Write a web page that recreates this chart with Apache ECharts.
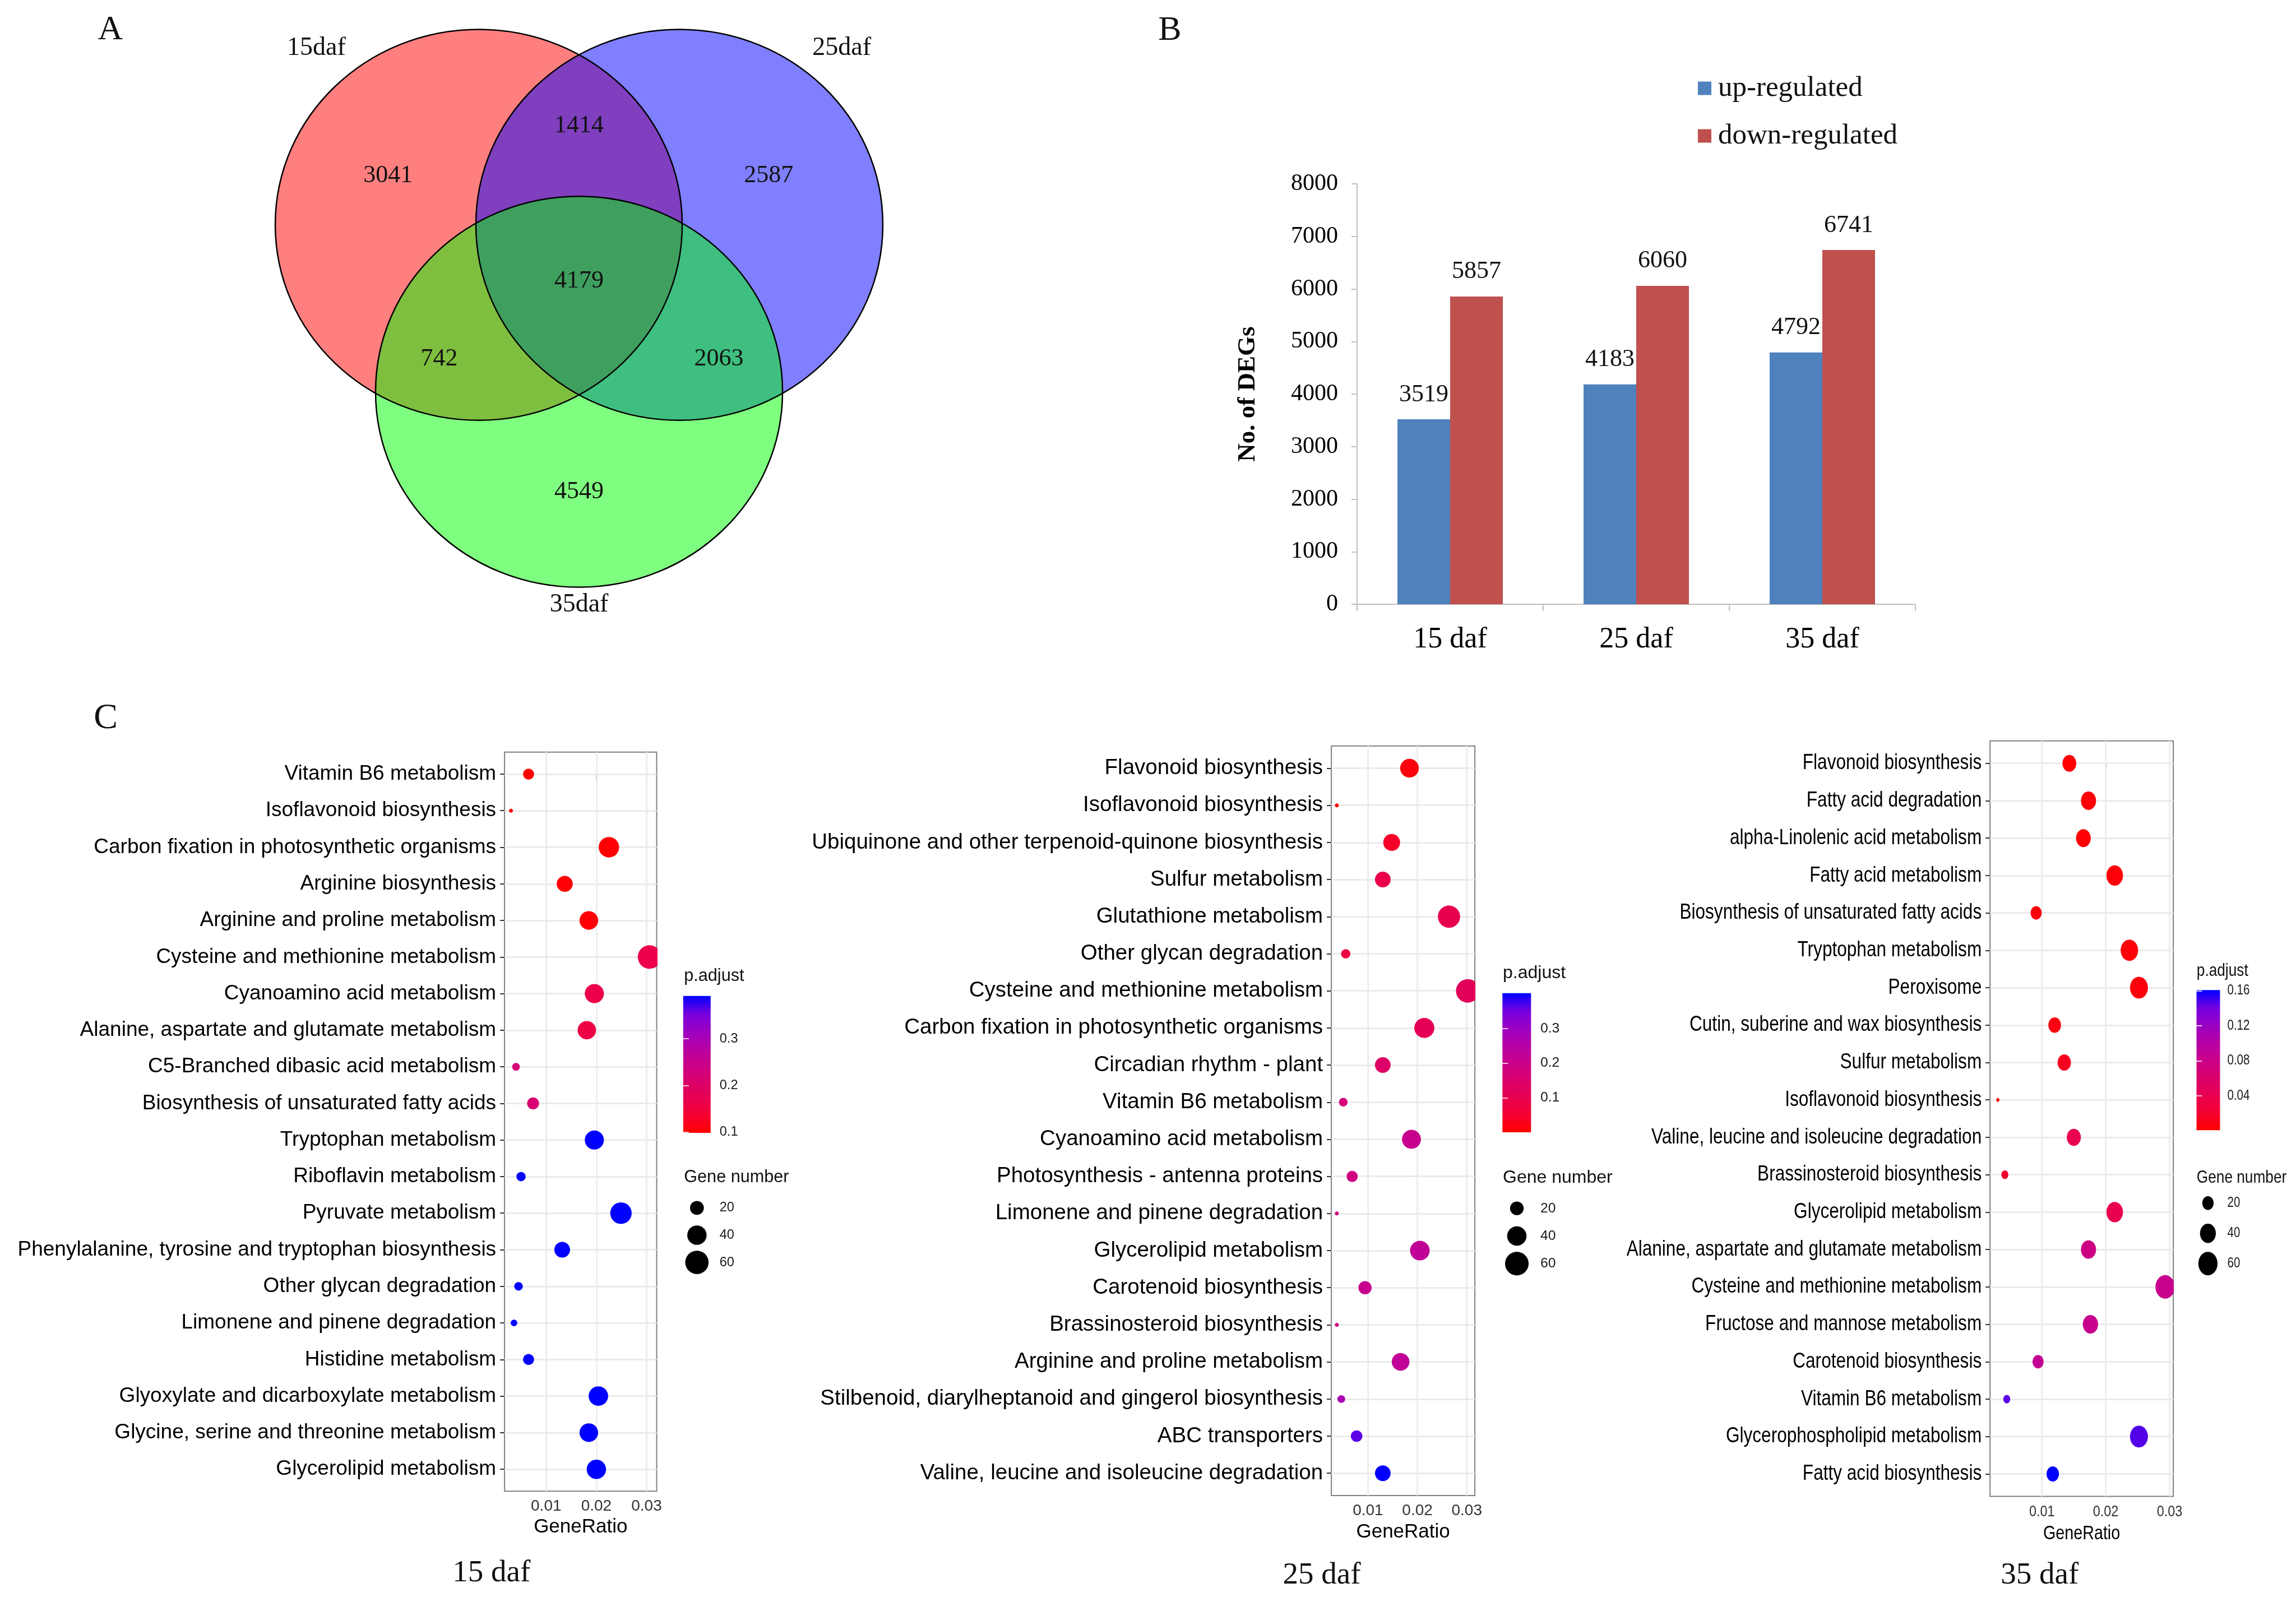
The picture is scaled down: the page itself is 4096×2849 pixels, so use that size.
<!DOCTYPE html>
<html><head><meta charset="utf-8">
<script src="https://cdn.jsdelivr.net/npm/echarts@6/dist/echarts.min.js"></script>
<style>html,body{margin:0;padding:0;background:#fff}#c{width:4096px;height:2849px}</style>
</head><body><div id="c"></div>
<script>
// ================= DATA =================
// Panel A: Venn diagram
const vennSetNames = ['15daf', '25daf', '35daf'];
const vennRegionCounts = [3041, 1414, 2587, 4179, 742, 2063, 4549]; // 15 only, 15&25, 25 only, all, 15&35, 25&35, 35 only

// Panel B: bar chart
const barCategories = ['15 daf', '25 daf', '35 daf'];
const upRegulated = [3519, 4183, 4792];
const downRegulated = [5857, 6060, 6741];
const seriesNames = ['up-regulated', 'down-regulated'];

// Panel C: KEGG dot plots
const terms15 = ['Vitamin B6 metabolism','Isoflavonoid biosynthesis','Carbon fixation in photosynthetic organisms','Arginine biosynthesis','Arginine and proline metabolism','Cysteine and methionine metabolism','Cyanoamino acid metabolism','Alanine, aspartate and glutamate metabolism','C5-Branched dibasic acid metabolism','Biosynthesis of unsaturated fatty acids','Tryptophan metabolism','Riboflavin metabolism','Pyruvate metabolism','Phenylalanine, tyrosine and tryptophan biosynthesis','Other glycan degradation','Limonene and pinene degradation','Histidine metabolism','Glyoxylate and dicarboxylate metabolism','Glycine, serine and threonine metabolism','Glycerolipid metabolism'];
const ratio15 = [0.0065, 0.0030, 0.0225, 0.0137, 0.0185, 0.0306, 0.0196, 0.0181, 0.0040, 0.0074, 0.0196, 0.0050, 0.0249, 0.0132, 0.0045, 0.0036, 0.0065, 0.0204, 0.0185, 0.0200];
const count15 = [13, 6, 45, 27, 37, 61, 39, 36, 8, 15, 39, 10, 50, 26, 9, 7, 13, 41, 37, 40];
const padj15 = [0.099, 0.098, 0.100, 0.100, 0.102, 0.163, 0.163, 0.157, 0.221, 0.216, 0.392, 0.392, 0.392, 0.392, 0.392, 0.392, 0.392, 0.392, 0.392, 0.392];

const terms25 = ['Flavonoid biosynthesis','Isoflavonoid biosynthesis','Ubiquinone and other terpenoid-quinone biosynthesis','Sulfur metabolism','Glutathione metabolism','Other glycan degradation','Cysteine and methionine metabolism','Carbon fixation in photosynthetic organisms','Circadian rhythm - plant','Vitamin B6 metabolism','Cyanoamino acid metabolism','Photosynthesis - antenna proteins','Limonene and pinene degradation','Glycerolipid metabolism','Carotenoid biosynthesis','Brassinosteroid biosynthesis','Arginine and proline metabolism','Stilbenoid, diarylheptanoid and gingerol biosynthesis','ABC transporters','Valine, leucine and isoleucine degradation'];
const ratio25 = [0.0184, 0.0037, 0.0148, 0.0130, 0.0264, 0.0055, 0.0302, 0.0214, 0.0130, 0.0050, 0.0188, 0.0068, 0.0037, 0.0205, 0.0094, 0.0037, 0.0166, 0.0046, 0.0077, 0.0130];
const count25 = [37, 7, 30, 26, 53, 11, 60, 43, 26, 10, 38, 14, 7, 41, 19, 7, 33, 9, 15, 26];
const padj25 = [0.012, 0.008, 0.041, 0.089, 0.101, 0.081, 0.121, 0.109, 0.141, 0.173, 0.209, 0.185, 0.181, 0.225, 0.209, 0.181, 0.225, 0.273, 0.362, 0.401];

const terms35 = ['Flavonoid biosynthesis','Fatty acid degradation','alpha-Linolenic acid metabolism','Fatty acid metabolism','Biosynthesis of unsaturated fatty acids','Tryptophan metabolism','Peroxisome','Cutin, suberine and wax biosynthesis','Sulfur metabolism','Isoflavonoid biosynthesis','Valine, leucine and isoleucine degradation','Brassinosteroid biosynthesis','Glycerolipid metabolism','Alanine, aspartate and glutamate metabolism','Cysteine and methionine metabolism','Fructose and mannose metabolism','Carotenoid biosynthesis','Vitamin B6 metabolism','Glycerophospholipid metabolism','Fatty acid biosynthesis'];
const ratio35 = [0.0143, 0.0173, 0.0165, 0.0214, 0.0091, 0.0237, 0.0252, 0.0120, 0.0135, 0.0031, 0.0150, 0.0042, 0.0214, 0.0173, 0.0293, 0.0176, 0.0094, 0.0045, 0.0252, 0.0117];
const count35 = [30, 36, 34, 44, 19, 49, 52, 25, 28, 6, 31, 9, 44, 36, 61, 37, 19, 9, 52, 24];
const padj35 = [0.0016, 0.004, 0.0032, 0.004, 0.0056, 0.004, 0.0056, 0.0072, 0.0136, 0.004, 0.0392, 0.020, 0.0392, 0.0776, 0.084, 0.084, 0.0872, 0.1448, 0.1464, 0.1608];

const geneRatioTicks = [0.01, 0.02, 0.03];
const geneRatioMinor = [0.005, 0.015, 0.025];
const sizeBreaks = [20, 40, 60];
const pBreaks15 = [0.1, 0.2, 0.3];
const pBreaks25 = [0.1, 0.2, 0.3];
const pBreaks35 = [0.04, 0.08, 0.12, 0.16];

// ================= STYLE / LAYOUT =================
const SERIF = '"Liberation Serif", "Times New Roman", serif';
const SANS = '"Liberation Sans", Arial, sans-serif';
const ramp = ['#FF0000','#F40031','#E80050','#DA006C','#CA0089','#B500A5','#9A00C3','#7300E0','#0000FF'];

const vennCircleCenters = [[-0.493, -0.427], [0.493, -0.427], [0, 0.427]];
const vennFill = ['rgba(255,0,0,0.5)', 'rgba(0,0,255,0.5)', 'rgba(0,255,0,0.5)'];
const vennRegionPos = [[-0.939, -0.678], [0, -0.933], [0.932, -0.678], [0, -0.139], [-0.687, 0.258], [0.687, 0.258], [0, 0.94]];
const vennSetLabelPos = [[-1.291, -1.33], [1.291, -1.33], [0, 1.517]];

const panels = [
  { terms: terms15, ratio: ratio15, count: count15, padj: padj15, pBreaks: pBreaks15,
    xRange: [0.00172, 0.03201], pRange: [0.098, 0.392],
    grid: { left: 900.1, top: 1341.8, width: 271.4, height: 1318.5 },
    sx: 1, labelSize: 37, tickSize: 28, nameGap: 47, aspect: 1,
    cb: { left: 1218.8, top: 1776.7, width: 49, height: 244.4, margin: 16 },
    sz: { cx: 1243.3, ys: [2154.9, 2202.7, 2252.1], labelLeft: 1283.8 },
    legTitleX: 1220.3, pTitleY: 1742, gTitleY: 2101, legTitleSize: 30.6, legLabelSize: 23.5,
    title: '15 daf', titlePos: [876.8, 2807] },
  { terms: terms25, ratio: ratio25, count: count25, padj: padj25, pBreaks: pBreaks25,
    xRange: [0.00259, 0.03163], pRange: [0.0004, 0.402],
    grid: { left: 2375.1, top: 1330.8, width: 256, height: 1337.1 },
    sx: 1, labelSize: 38.5, tickSize: 28, nameGap: 48, aspect: 1,
    cb: { left: 2680.3, top: 1771.7, width: 51, height: 248.4, margin: 16.7 },
    sz: { cx: 2706, ys: [2155.7, 2205.0, 2254.2], labelLeft: 2748 },
    legTitleX: 2681, pTitleY: 1736, gTitleY: 2101, legTitleSize: 32, legLabelSize: 24.7,
    title: '25 daf', titlePos: [2358, 2811] },
  { terms: terms35, ratio: ratio35, count: count35, padj: padj35, pBreaks: pBreaks35,
    xRange: [0.00188, 0.03057], pRange: [0.0008, 0.1608],
    grid: { left: 3550.2, top: 1321.7, width: 326.8, height: 1347.8 },
    sx: 0.82, labelSize: 38.5, tickSize: 28.5, nameGap: 49, aspect: 0.82,
    cb: { left: 3918.5, top: 1766.3, width: 42, height: 250, margin: 13 },
    sz: { cx: 3938.9, ys: [2146.3, 2200.6, 2254.2], labelLeft: 3973.6 },
    legTitleX: 3918.8, pTitleY: 1731.8, gTitleY: 2101, legTitleSize: 32, legLabelSize: 25,
    title: '35 daf', titlePos: [3638.8, 2811] }
];

function dotDiam(n, nmin, nmax) { return 7 * (1 + 5 * Math.sqrt(Math.max(0, n - nmin) / (nmax - nmin))); }
function fmtP(v) { return String(+v.toFixed(2)); }

// ================= BUILD OPTION =================
const grids = [], xAxes = [], yAxes = [], series = [], visualMaps = [], graphics = [];

// Grid 0: Venn
grids.push({ left: 307, top: 9.5, width: 1452, height: 1081, show: false, outerBoundsMode: 'none' });
xAxes.push({ type: 'value', gridIndex: 0, min: -2, max: 2, show: false });
yAxes.push({ type: 'value', gridIndex: 0, min: -1.55, max: 1.55, inverse: true, show: false });

// Grid 1: bar chart
grids.push({ left: 2421, top: 328, width: 996, height: 750, show: false, outerBoundsMode: 'none' });
xAxes.push({ type: 'category', gridIndex: 1, data: barCategories,
  axisLine: { show: true, lineStyle: { color: '#BFBFBF', width: 2 } },
  axisTick: { show: true, length: 12, lineStyle: { color: '#BFBFBF', width: 2 } },
  axisLabel: { fontFamily: SERIF, fontSize: 52, color: '#000', margin: 37 },
  splitLine: { show: false } });
yAxes.push({ type: 'value', gridIndex: 1, min: 0, max: 8000, interval: 1000,
  name: 'No. of DEGs', nameLocation: 'middle', nameGap: 172, nameRotate: 90,
  nameTextStyle: { fontFamily: SERIF, fontSize: 45, fontWeight: 'bold', color: '#000' },
  axisLine: { show: true, lineStyle: { color: '#BFBFBF', width: 2 } },
  axisTick: { show: true, length: 10, lineStyle: { color: '#BFBFBF', width: 2 } },
  axisLabel: { fontFamily: SERIF, fontSize: 42, color: '#000', margin: 34, formatter: v => String(v) },
  splitLine: { show: false } });

// Grids 2-4: dot plots
panels.forEach((p, k) => {
  grids.push(Object.assign({ show: true, borderColor: '#808080', borderWidth: 2, backgroundColor: '#fff', outerBoundsMode: 'none' }, p.grid));
  const gi = 2 + k;
  const native = p.sx === 1;
  xAxes.push({ type: 'value', gridIndex: gi, min: p.xRange[0], max: p.xRange[1],
    name: native ? 'GeneRatio' : '', nameLocation: 'middle', nameGap: p.nameGap,
    nameTextStyle: { fontFamily: SANS, fontSize: 35, color: '#000' },
    axisLine: { show: false },
    axisTick: { show: true, customValues: geneRatioTicks, length: 8, lineStyle: { color: '#333', width: 2 } },
    axisLabel: { show: native, customValues: geneRatioTicks, formatter: v => v.toFixed(2), fontFamily: SANS, fontSize: p.tickSize, color: '#333', margin: 13 },
    splitLine: { show: false } });
  const idx = p.terms.map((_, i) => i);
  yAxes.push({ type: 'value', gridIndex: gi, min: -0.6, max: p.terms.length - 0.4, inverse: true,
    axisLine: { show: false },
    axisTick: { show: true, customValues: idx, length: 8, lineStyle: { color: '#333', width: 2 } },
    axisLabel: { show: native, customValues: idx, formatter: v => p.terms[Math.round(v)], fontFamily: SANS, fontSize: p.labelSize, color: '#000', margin: 15 },
    splitLine: { show: false } });
});

// Grids 5-7: colour bars
panels.forEach((p, k) => {
  grids.push({ left: p.cb.left, top: p.cb.top, width: p.cb.width, height: p.cb.height, show: false, outerBoundsMode: 'none' });
  const gi = 5 + k;
  xAxes.push({ type: 'value', gridIndex: gi, min: 0, max: 1, show: false });
  yAxes.push({ type: 'value', gridIndex: gi, min: p.pRange[0], max: p.pRange[1], position: 'right', z: 10,
    axisLine: { show: false },
    axisTick: { show: true, inside: true, customValues: p.pBreaks, length: 10, lineStyle: { color: '#fff', width: 1.5 } },
    axisLabel: { show: p.sx === 1, customValues: p.pBreaks, formatter: fmtP, fontFamily: SANS, fontSize: p.legLabelSize, color: '#1a1a1a', margin: p.cb.margin },
    splitLine: { show: false } });
});

// Grids 8-10: size legends
panels.forEach((p, k) => {
  const sp = (p.sz.ys[2] - p.sz.ys[0]) / 2;
  grids.push({ left: p.sz.cx - 20, top: p.sz.ys[0] - sp / 2, width: 40, height: sp * 3, show: false, outerBoundsMode: 'none' });
  const gi = 8 + k;
  xAxes.push({ type: 'value', gridIndex: gi, min: 0, max: 1, show: false });
  yAxes.push({ type: 'category', gridIndex: gi, data: sizeBreaks.map(String), inverse: true, position: 'right',
    axisLine: { show: false }, axisTick: { show: false },
    axisLabel: { show: p.sx === 1, fontFamily: SANS, fontSize: p.legLabelSize, color: '#1a1a1a', margin: p.sz.labelLeft - (p.sz.cx + 20) },
    splitLine: { show: false } });
});

// Extra y axes (left side ticks on colour bars): indices 11-13
panels.forEach((p, k) => {
  yAxes.push({ type: 'value', gridIndex: 5 + k, min: p.pRange[0], max: p.pRange[1], position: 'left', z: 10,
    axisLine: { show: false },
    axisTick: { show: true, inside: true, customValues: p.pBreaks, length: 10, lineStyle: { color: '#fff', width: 1.5 } },
    axisLabel: { show: false }, splitLine: { show: false } });
});

// ---- Series ----
// Venn fills
series.push({ type: 'custom', xAxisIndex: 0, yAxisIndex: 0, silent: true, clip: false, z: 2,
  data: vennCircleCenters.map((c, i) => [c[0], c[1], i]),
  renderItem(params, api) {
    const c = api.coord([api.value(0), api.value(1)]);
    const s = api.size([1, 1]);
    return { type: 'ellipse', shape: { cx: c[0], cy: c[1], rx: s[0], ry: s[1] }, style: { fill: vennFill[api.value(2)] } };
  } });
// Venn outlines
series.push({ type: 'custom', xAxisIndex: 0, yAxisIndex: 0, silent: true, clip: false, z: 3,
  data: vennCircleCenters.map((c, i) => [c[0], c[1], i]),
  renderItem(params, api) {
    const c = api.coord([api.value(0), api.value(1)]);
    const s = api.size([1, 1]);
    return { type: 'ellipse', shape: { cx: c[0], cy: c[1], rx: s[0], ry: s[1] }, style: { fill: 'none', stroke: '#000', lineWidth: 2.5 } };
  } });
// Venn texts
const vennTexts = vennRegionCounts.map((v, i) => [vennRegionPos[i][0], vennRegionPos[i][1], String(v), 44])
  .concat(vennSetNames.map((n, i) => [vennSetLabelPos[i][0], vennSetLabelPos[i][1], n, 46]));
series.push({ type: 'custom', xAxisIndex: 0, yAxisIndex: 0, silent: true, clip: false, z: 4,
  data: vennTexts.map((t, i) => [t[0], t[1], i]),
  renderItem(params, api) {
    const t = vennTexts[api.value(2)];
    const c = api.coord([api.value(0), api.value(1)]);
    return { type: 'text', x: c[0], y: c[1], style: { text: t[2], font: t[3] + 'px ' + SERIF, fill: '#111', align: 'center', verticalAlign: 'middle' } };
  } });
// bars
[upRegulated, downRegulated].forEach((vals, i) => {
  series.push({ type: 'bar', name: seriesNames[i], xAxisIndex: 1, yAxisIndex: 1, data: vals,
    barWidth: 94, barGap: '0%', itemStyle: { color: i === 0 ? '#4F81BD' : '#C0504D' },
    label: { show: true, position: 'top', distance: 22, fontFamily: SERIF, fontSize: 44, color: '#111' } });
});
// grid lines per panel (drawn under the dots)
panels.forEach((p, k) => {
  const data = p.terms.map((_, i) => ({ yAxis: i }))
    .concat(geneRatioTicks.map(v => ({ xAxis: v, lineStyle: { width: 2.5 } })))
    .concat(geneRatioMinor.map(v => ({ xAxis: v, lineStyle: { width: 1.5 } })));
  series.push({ type: 'scatter', xAxisIndex: 2 + k, yAxisIndex: 2 + k, data: [], silent: true, z: 1,
    markLine: { silent: true, z: 1, symbol: ['none', 'none'], animation: false, label: { show: false },
      lineStyle: { color: '#EBEBEB', width: 3, type: 'solid' }, emphasis: { disabled: true }, data } });
});
// dots
panels.forEach((p, k) => {
  const nmin = Math.min(...p.count), nmax = Math.max(...p.count);
  const si = series.length;
  series.push({ type: 'custom', xAxisIndex: 2 + k, yAxisIndex: 2 + k, clip: true, z: 8,
    encode: { x: 0, y: 1 },
    data: p.terms.map((t, i) => [p.ratio[i], i, p.padj[i], p.count[i]]),
    renderItem(params, api) {
      const c = api.coord([api.value(0), api.value(1)]);
      const d = dotDiam(api.value(3), nmin, nmax);
      return { type: 'ellipse', z2: 10, shape: { cx: c[0], cy: c[1], rx: d * p.aspect / 2, ry: d / 2 }, style: { fill: api.visual('color') } };
    } });
  visualMaps.push({ type: 'continuous', show: false, seriesIndex: si, dimension: 2,
    min: p.pRange[0], max: p.pRange[1], inRange: { color: ramp } });
});
// colour bars
panels.forEach((p, k) => {
  series.push({ type: 'custom', xAxisIndex: 5 + k, yAxisIndex: 5 + k, silent: true, clip: false, z: 2,
    data: [[0, p.pRange[1], 1, p.pRange[0]]],
    renderItem(params, api) {
      const a = api.coord([api.value(0), api.value(1)]);
      const b = api.coord([api.value(2), api.value(3)]);
      const stops = ramp.map((c, i) => ({ offset: 1 - i / (ramp.length - 1), color: c })).reverse();
      return { type: 'rect', shape: { x: a[0], y: a[1], width: b[0] - a[0], height: b[1] - a[1] },
        style: { fill: { type: 'linear', x: 0, y: 0, x2: 0, y2: 1, colorStops: stops } } };
    } });
});
// size legends
panels.forEach((p, k) => {
  const nmin = Math.min(...p.count), nmax = Math.max(...p.count);
  series.push({ type: 'custom', xAxisIndex: 8 + k, yAxisIndex: 8 + k, silent: true, clip: false, z: 2,
    data: sizeBreaks.map((n, i) => [0.5, i, n]),
    renderItem(params, api) {
      const c = api.coord([api.value(0), api.value(1)]);
      const d = dotDiam(api.value(2), nmin, nmax);
      return { type: 'ellipse', shape: { cx: c[0], cy: c[1], rx: d * p.aspect / 2, ry: d / 2 }, style: { fill: '#000' } };
    } });
});
// horizontally condensed text for the third panel (its source image is squeezed)
function squeezedText(x, y, text, size, sx, align, vAlign, color) {
  return { type: 'text', x, y, scaleX: sx, style: { text, font: size + 'px ' + SANS, fill: color || '#000', align, verticalAlign: vAlign } };
}
panels.forEach((p, k) => {
  if (p.sx === 1) return;
  series.push({ type: 'custom', xAxisIndex: 2 + k, yAxisIndex: 2 + k, silent: true, clip: false, z: 6,
    data: p.terms.map((t, i) => [p.xRange[0], i]),
    renderItem(params, api) {
      const c = api.coord([api.value(0), api.value(1)]);
      return squeezedText(c[0] - 15, c[1], p.terms[params.dataIndex], p.labelSize, p.sx, 'right', 'middle', '#000');
    } });
  series.push({ type: 'custom', xAxisIndex: 2 + k, yAxisIndex: 2 + k, silent: true, clip: false, z: 6,
    data: geneRatioTicks.map(v => [v, p.terms.length - 0.4]),
    renderItem(params, api) {
      const c = api.coord([api.value(0), api.value(1)]);
      return squeezedText(c[0], c[1] + 13, api.value(0).toFixed(2), p.tickSize, p.sx, 'center', 'top', '#333');
    } });
  series.push({ type: 'custom', xAxisIndex: 2 + k, yAxisIndex: 2 + k, silent: true, clip: false, z: 6,
    data: [[(p.xRange[0] + p.xRange[1]) / 2, p.terms.length - 0.4]],
    renderItem(params, api) {
      const c = api.coord([api.value(0), api.value(1)]);
      return squeezedText(c[0], c[1] + p.nameGap, 'GeneRatio', 35, p.sx, 'center', 'top', '#000');
    } });
  series.push({ type: 'custom', xAxisIndex: 5 + k, yAxisIndex: 5 + k, silent: true, clip: false, z: 6,
    data: p.pBreaks.map(v => [1, v]),
    renderItem(params, api) {
      const c = api.coord([api.value(0), api.value(1)]);
      return squeezedText(c[0] + p.cb.margin, c[1], fmtP(api.value(1)), p.legLabelSize, p.sx, 'left', 'middle', '#1a1a1a');
    } });
  series.push({ type: 'custom', xAxisIndex: 8 + k, yAxisIndex: 8 + k, silent: true, clip: false, z: 6,
    data: sizeBreaks.map((n, i) => [1, i, n]),
    renderItem(params, api) {
      const c = api.coord([api.value(0), api.value(1)]);
      return squeezedText(p.sz.labelLeft, c[1], String(api.value(2)), p.legLabelSize, p.sx, 'left', 'middle', '#1a1a1a');
    } });
});

// ---- Free texts ----
function txt(x, y, text, font, align, sx) {
  graphics.push({ type: 'text', x, y, scaleX: sx || 1, silent: true, style: { text, font, fill: '#111', align: align || 'center', verticalAlign: 'middle' } });
}
txt(197, 54, 'A', '62px ' + SERIF);
txt(2087, 55, 'B', '62px ' + SERIF);
txt(188.6, 1282, 'C', '64px ' + SERIF);
panels.forEach(p => {
  txt(p.titlePos[0], p.titlePos[1], p.title, '55px ' + SERIF);
  txt(p.legTitleX, p.pTitleY, 'p.adjust', p.legTitleSize + 'px ' + SANS, 'left', p.sx);
  txt(p.legTitleX, p.gTitleY, 'Gene number', p.legTitleSize + 'px ' + SANS, 'left', p.sx);
});

const option = {
  animation: false,
  backgroundColor: '#fff',
  grid: grids, xAxis: xAxes, yAxis: yAxes,
  visualMap: visualMaps,
  legend: { data: seriesNames, orient: 'vertical', left: 3024, top: 127, itemWidth: 24, itemHeight: 24, itemGap: 34,
    icon: 'rect', selectedMode: false,
    textStyle: { fontFamily: SERIF, fontSize: 51, color: '#111', padding: [0, 0, 0, 7] } },
  series,
  graphic: { elements: graphics }
};
const chart = echarts.init(document.getElementById('c'), null, { width: 4096, height: 2849 });
chart.setOption(option);
</script>
</body></html>
